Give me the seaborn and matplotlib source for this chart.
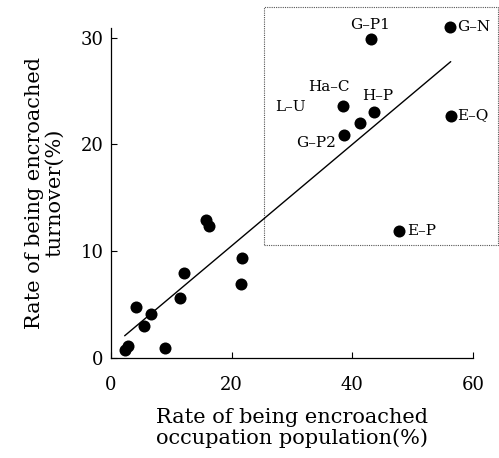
import numpy as np
import pandas as pd
import matplotlib
matplotlib.use("Agg")
import matplotlib.pyplot as plt
import seaborn as sns
from matplotlib.patches import Rectangle

# occupation population vs turnover encroachment rates (%)
occupation = [2.3, 2.9, 4.2, 5.5, 6.6, 8.9, 11.4, 12.1, 15.7, 16.2, 21.7, 21.6,
              43.1, 56.2, 38.5, 43.6, 41.3, 38.7, 56.3, 47.7]
turnover = [0.8, 1.1, 4.8, 3.0, 4.1, 0.95, 5.6, 8.0, 12.9, 12.4, 9.4, 6.9,
            29.9, 31.0, 23.6, 23.0, 22.0, 20.9, 22.7, 11.9]
names = ["", "", "", "", "", "", "", "", "", "", "", "",
         "G\u2013P1", "G\u2013N", "Ha\u2013C", "H\u2013P", "", "G\u2013P2", "E\u2013Q", "E\u2013P"]

df = pd.DataFrame({"occupation": occupation, "turnover": turnover, "name": names})

sns.set_style("ticks")
plt.rcParams['font.family'] = ['DejaVu Serif']
plt.rcParams['text.color'] = 'black'
plt.rcParams['axes.labelcolor'] = 'black'

fig = plt.figure(figsize=(4.99, 4.58), dpi=100)
ax = fig.add_axes([0.222, 0.218, 0.726, 0.721])

sns.regplot(x="occupation", y="turnover", data=df, ax=ax, scatter=False, ci=None,
            line_kws={"color": "black", "lw": 1.0})
sns.scatterplot(x="occupation", y="turnover", data=df, ax=ax, color="black",
                s=75, edgecolor="black", linewidth=0, clip_on=False, zorder=3)

# label offsets (points) for the named sites
offsets = {
    "G\u2013P1": (-1, 10, "center", "center"),
    "G\u2013N": (5, 0, "left", "center"),
    "Ha\u2013C": (-10, 13.5, "center", "center"),
    "H\u2013P": (3, 11.5, "center", "center"),
    "G\u2013P2": (-6, -6, "right", "center"),
    "E\u2013Q": (5, 0, "left", "center"),
    "E\u2013P": (6, 0, "left", "center"),
}
for x, y, n in zip(occupation, turnover, names):
    if n:
        dx, dy, ha, va = offsets[n]
        ax.annotate(n, (x, y), xytext=(dx, dy), textcoords="offset points",
                    ha=ha, va=va, fontsize=11, color="black", annotation_clip=False)
ax.annotate("L\u2013U", (38.5, 23.6), xytext=(-27, -1), textcoords="offset points",
            ha="right", va="center", fontsize=11, color="black", annotation_clip=False)

# dotted box around the outlying group
ax.add_patch(Rectangle((25.3, 10.6), 38.8, 22.3, fill=False, ls=(0, (1, 1)),
                       lw=0.8, ec="#555555", clip_on=False))

ax.set_xlim(0, 60)
ax.set_ylim(0, 30.9)
ax.set_xticks([0, 20, 40, 60])
ax.set_yticks([0, 10, 20, 30])
ax.tick_params(direction="in", length=4, width=0.8, labelsize=13, colors="black")
ax.tick_params(axis="x", pad=13)
ax.tick_params(axis="y", pad=5)
for s in ["top", "right"]:
    ax.spines[s].set_visible(False)
for s in ["left", "bottom"]:
    ax.spines[s].set_linewidth(0.9)
    ax.spines[s].set_color("black")

ax.set_xlabel("Rate of being encroached\noccupation population(%)", fontsize=15,
              linespacing=1.1, labelpad=10)
ax.set_ylabel("Rate of being encroached\nturnover(%)", fontsize=15,
              linespacing=1.1, labelpad=12)

fig.savefig("out.png", dpi=100)
